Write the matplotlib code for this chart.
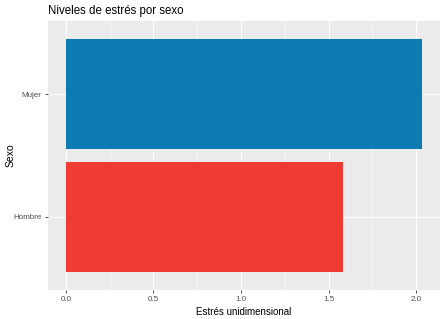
import matplotlib
matplotlib.use('Agg')
import matplotlib.pyplot as plt

plt.rcParams['font.family'] = ['Liberation Sans', 'DejaVu Sans']

# data
sexo = ['Hombre', 'Mujer']
estres = [1.585, 2.034]
colores = ['#F03B35', '#0C7BB3']
xticks = [0.0, 0.5, 1.0, 1.5, 2.0]
xticklabels = ['0.0', '0.5', '1.0', '1.5', '2.0']

fig = plt.figure(figsize=(4.46, 3.19), dpi=100)
ax = fig.add_axes([48 / 446, 29 / 319, 392 / 446, 269 / 319])

ypos = list(range(1, len(sexo) + 1))
ax.barh(ypos, estres, height=0.9, color=colores, zorder=3)

ax.set_facecolor('#EBEBEB')
for s in ax.spines.values():
    s.set_visible(False)

ax.set_xlim(-0.1017, 2.136)
ax.set_ylim(0.4, 2.6)
ax.set_xticks(xticks)
ax.set_xticklabels(xticklabels)
ax.set_xticks([0.25, 0.75, 1.25, 1.75], minor=True)
ax.set_yticks(ypos)
ax.set_yticklabels(sexo)

ax.grid(which='major', color='white', linewidth=0.8, zorder=0)
ax.grid(which='minor', axis='x', color='white', linewidth=0.4, zorder=0)
ax.set_axisbelow(True)

ax.tick_params(which='major', length=2.5, width=0.6, color='#333333',
               labelsize=5.8, labelcolor='#4D4D4D', pad=2)
ax.tick_params(which='minor', length=0)

ax.set_xlabel('Estrés unidimensional', fontsize=7, labelpad=3)
ax.set_ylabel('Sexo', fontsize=7.5)
ax.yaxis.set_label_coords(-0.082, 0.5)
ax.set_title('Niveles de estrés por sexo', loc='left', fontsize=8.3, pad=5)

fig.savefig('out.png', dpi=100)
